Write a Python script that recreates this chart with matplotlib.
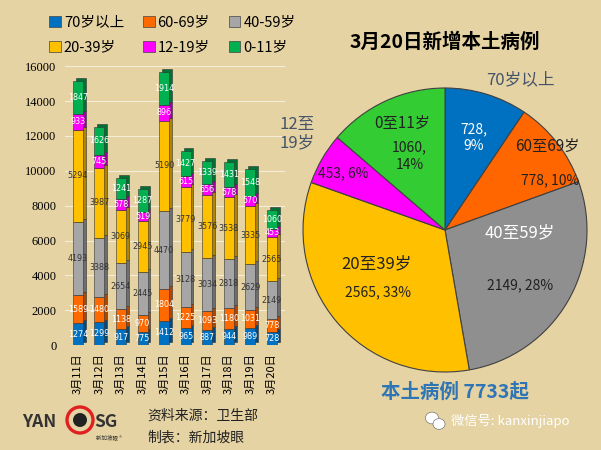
import numpy as np
import matplotlib
matplotlib.use('Agg')
import matplotlib.pyplot as plt
from matplotlib.patches import Ellipse

plt.rcParams['font.family'] = ['Noto Sans CJK SC', 'DejaVu Sans']

dates = ['3月11日', '3月12日', '3月13日', '3月14日', '3月15日',
         '3月16日', '3月17日', '3月18日', '3月19日', '3月20日']
groups = ['70岁以上', '60-69岁', '40-59岁', '20-39岁', '12-19岁', '0-11岁']
age70 = [1274, 1299, 917, 775, 1412, 965, 887, 944, 989, 728]
age60 = [1589, 1480, 1138, 970, 1804, 1225, 1093, 1180, 1031, 778]
age40 = [4193, 3388, 2654, 2445, 4470, 3128, 3034, 2818, 2629, 2149]
age20 = [5294, 3987, 3069, 2945, 5190, 3779, 3576, 3538, 3335, 2565]
age12 = [933, 745, 578, 519, 896, 615, 656, 578, 570, 453]
age0 = [1847, 1626, 1241, 1287, 1914, 1427, 1339, 1431, 1548, 1060]

pie_labels = ['70岁以上', '60至69岁', '40至59岁', '20至39岁', '12至\n19岁', '0至11岁']
pie_vals = [728, 778, 2149, 2565, 453, 1060]
pie_pct = ['9%', '10%', '28%', '33%', '6%', '14%']

bar_colors = ['#0070C0', '#FF6A00', '#A6A6A6', '#FFC000', '#FF00FF', '#00B050']
side_colors = ['#004A80', '#B04600', '#6E6E6E', '#B08400', '#A000A0', '#007035']
label_colors = ['white', 'white', '#333333', '#333333', 'white', 'white']
pie_colors = ['#0070C0', '#FF6600', '#8F8F8F', '#FFC000', '#FF00FF', '#33CC33']

bg = '#E6D3A3'
fig = plt.figure(figsize=(6.01, 4.5), dpi=100)
fig.patch.set_facecolor(bg)

# ---- stacked bars
ax = fig.add_axes([0.108, 0.233, 0.366, 0.62])
ax.set_facecolor('none')
x = np.arange(len(dates))
series = [age70, age60, age40, age20, age12, age0]
bottom = np.zeros(len(dates))
w = 0.46
for s, col, scol, lc in zip(series, bar_colors, side_colors, label_colors):
    v = np.array(s)
    # fake 3D side/top
    ax.bar(x + 0.13, v, w, bottom=bottom + 170, color=scol, edgecolor='#333333', linewidth=0.4, zorder=2)
    ax.bar(x, v, w, bottom=bottom, color=col, edgecolor='#333333', linewidth=0.4, zorder=3)
    for xi, vi, bi in zip(x, v, bottom):
        ax.text(xi, bi + vi / 2, str(vi), ha='center', va='center', fontsize=5.8,
                color=lc, zorder=4, family=['DejaVu Sans'])
    bottom = bottom + v

ax.set_ylim(0, 16000)
ax.set_xlim(-0.6, 9.6)
ax.set_yticks(range(0, 16001, 2000))
ax.set_yticklabels([str(t) for t in range(0, 16001, 2000)], family=['Liberation Serif'], fontsize=9)
ax.yaxis.grid(True, color='white', alpha=0.6, linewidth=0.8)
ax.set_axisbelow(True)
ax.set_xticks(x)
ax.set_xticklabels(dates, rotation=90, fontsize=8)
ax.tick_params(length=0, pad=6)
for sp in ax.spines.values():
    sp.set_visible(False)

# legend filled row by row
order = [0, 3, 1, 4, 2, 5]
handles = [plt.Rectangle((0, 0), 1, 1, facecolor=c, edgecolor='#444444', linewidth=0.5) for c in bar_colors]
fig.legend([handles[i] for i in order], [groups[i] for i in order], ncol=3, loc='upper left',
           bbox_to_anchor=(0.06, 0.995), frameon=False, fontsize=10.5, handlelength=0.8,
           handleheight=0.8, handletextpad=0.2, columnspacing=1.3, labelspacing=0.75)

# ---- pie
r = 142
axp = fig.add_axes([(445 - r) / 601, (450 - 230 - r) / 450, 2 * r / 601, 2 * r / 450])
axp.pie(pie_vals, colors=pie_colors, startangle=90, counterclock=False, radius=1,
        wedgeprops=dict(edgecolor='#404040', linewidth=0.8))
axp.set_xlim(-1, 1)
axp.set_ylim(-1, 1)
axp.axis('off')

dark = '#222222'
bluegray = '#44546A'
name_pos = [(0.53, 1.06), (0.72, 0.59), (0.53, -0.02), (-0.48, -0.24), (-1.04, 0.68), (-0.30, 0.75)]
name_col = [bluegray, dark, 'white', dark, bluegray, dark]
name_size = [12, 11, 12, 12, 12, 11]
val_pos = [(0.2, 0.65), (0.74, 0.35), (0.53, -0.39), (-0.47, -0.44), (-0.72, 0.40), (-0.25, 0.52)]
val_col = ['white', dark, dark, dark, dark, dark]
val_sep = [',\n', ', ', ', ', ', ', ', ', ',\n']
for i in range(len(pie_vals)):
    axp.text(*name_pos[i], pie_labels[i], ha='center', va='center', fontsize=name_size[i],
             color=name_col[i], clip_on=False, linespacing=1.1)
    axp.text(*val_pos[i], f'{pie_vals[i]}{val_sep[i]}{pie_pct[i]}', ha='center', va='center',
             fontsize=10, color=val_col[i], clip_on=False, linespacing=1.3)

fig.text(445 / 601, 1 - 42 / 450, '3月20日新增本土病例', ha='center', va='center',
         fontsize=14, fontweight='bold', color='black')
fig.text(455 / 601, 1 - 392 / 450, '本土病例 7733起', ha='center', va='center',
         fontsize=14, fontweight='bold', color='#2E75B6')

# wechat line
fig.text(451 / 601, 1 - 421 / 450, '微信号: kanxinjiapo', ha='left', va='center',
         fontsize=9.5, color='white')
fig.patches.append(Ellipse((432 / 601, 1 - 418 / 450), 0.022, 0.026, transform=fig.transFigure,
                           facecolor='white', edgecolor='#777777', linewidth=0.5))
fig.patches.append(Ellipse((439 / 601, 1 - 424 / 450), 0.020, 0.024, transform=fig.transFigure,
                           facecolor='white', edgecolor='#777777', linewidth=0.5))

# source
fig.text(147 / 601, 1 - 416 / 450, '资料来源：卫生部', ha='left', va='center', fontsize=10, color='#222222')
fig.text(147 / 601, 1 - 438 / 450, '制表：新加坡眼', ha='left', va='center', fontsize=10, color='#222222')

# logo
fig.text(22 / 601, 1 - 422 / 450, 'YAN', ha='left', va='center', fontsize=12.5, fontweight='bold', color='#333333')
fig.text(94 / 601, 1 - 422 / 450, 'SG', ha='left', va='center', fontsize=12.5, fontweight='bold', color='#333333')
fig.patches.append(Ellipse((80 / 601, 1 - 420 / 450), 26 / 601, 26 / 450, transform=fig.transFigure,
                           facecolor='none', edgecolor='#E02020', linewidth=2.4))
fig.patches.append(Ellipse((80 / 601, 1 - 420 / 450), 14 / 601, 14 / 450, transform=fig.transFigure,
                           facecolor='#222222', edgecolor='none'))
fig.text(96 / 601, 1 - 438 / 450, '新加坡眼 ®', ha='left', va='center', fontsize=4, color='#333333')

fig.savefig('out.png', dpi=100, facecolor=fig.get_facecolor())
